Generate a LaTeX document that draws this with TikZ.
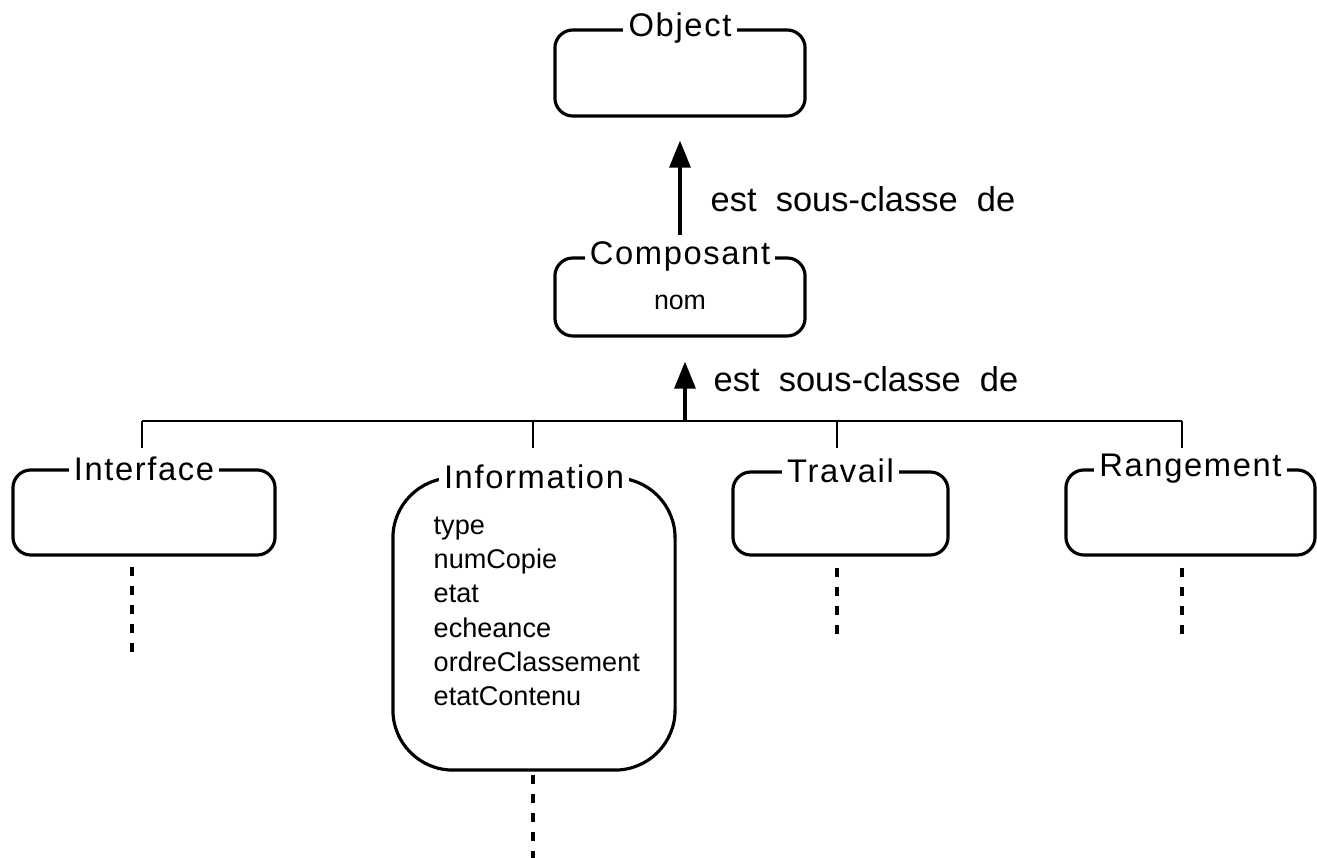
\documentclass[tikz,border=0pt]{standalone}
\usepackage{fontspec}
\setmainfont{Liberation Sans}
\newfontfamily\classfont[LetterSpace=5]{Liberation Sans}
\usetikzlibrary{arrows.meta,positioning}

\begin{document}
\begin{tikzpicture}[x=0.01cm,y=-0.01cm]

\tikzset{classe/.style = {shape=rectangle,draw,rounded corners=0.18cm,line width=0.9pt,inner sep=0pt}}
\tikzset{titre/.style = {fill=white,inner xsep=1.5pt,inner ysep=1pt,font=\classfont\fontsize{9.3}{11}\selectfont}}
\tikzset{sousclasse/.style = {-{Triangle[length=0.27cm,width=0.21cm]},line width=0.9pt}}
\tikzset{lien/.style = {line width=0.85pt}}
\tikzset{suite/.style = {line width=0.9pt,dash pattern=on 0.09cm off 0.1cm}}
\tikzset{etiq/.style = {anchor=base west,inner sep=0pt,font=\fontsize{9.8}{11}\selectfont}}

\useasboundingbox (0,0) rectangle (1317,858);

% classes
\node[classe,minimum width=2.5cm,minimum height=0.86cm] (object) at (680,73) {};
\node[classe,minimum width=2.5cm,minimum height=0.78cm] (composant) at (680,297) {};
\node[classe,minimum width=2.62cm,minimum height=0.85cm] (interface) at (144,512.5) {};
\node[classe,rounded corners=0.6cm,minimum width=2.82cm,minimum height=2.92cm] (information) at (534,624) {};
\node[classe,minimum width=2.15cm,minimum height=0.83cm] (travail) at (840.5,513.5) {};
\node[classe,minimum width=2.49cm,minimum height=0.85cm] (rangement) at (1190.5,512.5) {};

% titles
\node[titre] (tobject) at (object.north) {Object};
\node[titre] (tcomposant) at (composant.north) {Composant};
\node[titre] (tinterface) at (interface.north) {Interface};
\node[titre] (tinformation) at (information.north) {Information};
\node[titre] (ttravail) at (travail.north) {Travail};
\node[titre] (trangement) at (rangement.north) {Rangement};

% attributes
\node[font=\fontsize{7.6}{9}\selectfont] (nom) at (680,302) {nom};
\node[anchor=north west,align=left,inner sep=0pt,font=\fontsize{7.7}{9.75}\selectfont] (attributs) at (433,516)
  {type\\numCopie\\etat\\echeance\\ordreClassement\\etatContenu};

%edges
\coordinate (bus) at (685,421);
\draw[sousclasse,shorten <=0.21cm,shorten >=0.23cm] (composant.north) -- (object.south);
\draw[sousclasse,shorten >=0.24cm] (bus) -- (bus |- composant.south);
\node[etiq] (lab1) at (710,212) {est\ \ sous-classe\ \ de};
\node[etiq] (lab2) at (713,392) {est\ \ sous-classe\ \ de};

\foreach \n/\x in {interface/142,information/533,travail/837,rangement/1182} {
  \coordinate (h\n) at (\x,421);
  \coordinate (d\n) at (\x,448);
  \draw[lien] (h\n) -- (d\n);
}
\draw[lien] (hinterface) -- (hrangement);

% more subclasses
\foreach \n/\x/\a/\b in {interface/132/567/658,information/533/775/858,travail/837/568/638,rangement/1182/568/638} {
  \coordinate (\n-a) at (\x,\a);
  \coordinate (\n-b) at (\x,\b);
  \draw[suite] (\n-a) -- (\n-b);
}

\end{tikzpicture}
\end{document}
